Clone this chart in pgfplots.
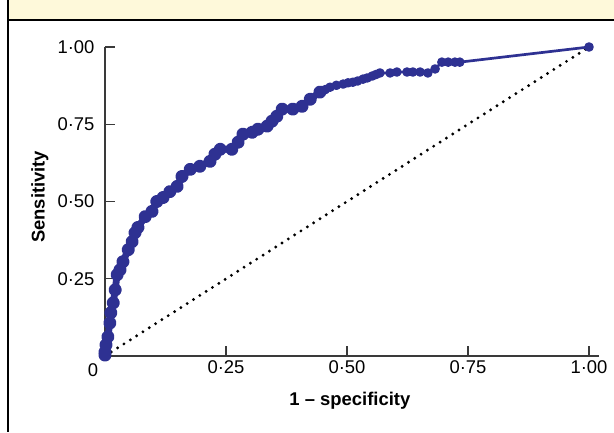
\documentclass[border=0pt]{standalone}
\usepackage{fontspec}
\setmainfont{Liberation Sans}
\usepackage{pgfplots}
\pgfplotsset{compat=1.18}
\definecolor{roc}{HTML}{2E3192}
\definecolor{hdr}{HTML}{FEF9DA}
\definecolor{axgray}{HTML}{3A3A3A}
\begin{document}
\begin{tikzpicture}[x=1bp,y=1bp]
\path[use as bounding box] (0,0) rectangle (614,432);
\fill[hdr] (8,412) rectangle (614,432);
\draw[line width=1.5bp] (8,432) -- (8,0);
\draw[line width=1.5bp] (8,412) -- (614,412);
\begin{axis}[
  at={(105bp,76bp)}, anchor=south west,
  scale only axis, width=493.7bp, height=309bp,
  xmin=0, xmax=1.02, ymin=0, ymax=1,
  axis x line*=bottom, axis y line*=left,
  axis line style={-, axgray, line width=1.2bp},
  tick style={axgray, line width=1.1bp},
  tick align=inside, major tick length=10bp,
  xtick={0.25,0.5,0.75,1},
  xticklabels={\mbox{0·25},\mbox{0·50},\mbox{0·75},\mbox{1·00}},
  ytick={0.25,0.5,0.75,1},
  yticklabels={\mbox{0·25},\mbox{0·50},\mbox{0·75},\mbox{1·00}},
  xticklabel style={font=\fontsize{18.5}{20}\selectfont, yshift=-1bp},
  yticklabel style={font=\fontsize{18.5}{20}\selectfont, xshift=-7bp},
  xlabel={1 – specificity},
  ylabel={Sensitivity},
  xlabel style={font=\bfseries\fontsize{18.5}{21}\selectfont, at={(axis description cs:0.496,-0.146)}, anchor=center},
  ylabel style={font=\bfseries\fontsize{18.5}{21}\selectfont, at={(axis description cs:-0.132,0.515)}, anchor=center},
  clip=false,
]
\addplot[black, line width=3.2bp, line cap=round, dash pattern=on 0pt off 7.5bp] coordinates {(0,0) (1,1)};
\addplot[roc, line width=6.8bp, line join=round, line cap=round, mark=*, mark size=3.2bp, mark options={solid, fill=roc}] coordinates {
(0,0.003) (0,0.013) (0.002,0.036) (0.006,0.062) (0.010,0.107) (0.012,0.140)
(0.017,0.172) (0.021,0.214) (0.025,0.263) (0.031,0.279) (0.037,0.305)
(0.048,0.344) (0.056,0.370) (0.062,0.399) (0.068,0.416) (0.083,0.451)
(0.097,0.468) (0.107,0.500) (0.120,0.513) (0.134,0.532) (0.149,0.549)
(0.159,0.581) (0.176,0.604) (0.196,0.614) (0.217,0.630) (0.227,0.653)
(0.238,0.669) (0.262,0.669) (0.275,0.692) (0.285,0.718) (0.304,0.724)
(0.316,0.734) (0.335,0.744) (0.345,0.760) (0.355,0.776) (0.366,0.799)
(0.388,0.799) (0.407,0.808) (0.424,0.831) (0.444,0.854)
};
\addplot[roc, line width=2.7bp, line join=round, mark=*, mark size=3.4bp, mark options={solid, fill=roc}] coordinates {
(0.444,0.854) (0.455,0.862) (0.465,0.870) (0.478,0.876)
(0.492,0.880) (0.502,0.884) (0.512,0.886) (0.522,0.890) (0.533,0.896) (0.542,0.900) (0.552,0.906) (0.560,0.911) (0.568,0.916)
(0.589,0.916) (0.603,0.919) (0.624,0.919) (0.636,0.919) (0.651,0.919)
(0.667,0.916) (0.682,0.929) (0.696,0.951) (0.709,0.951) (0.723,0.951)
(0.733,0.951) (1,1)
};
\end{axis}
\node[font=\fontsize{18.5}{20}\selectfont] at (93,62) {0};
\end{tikzpicture}
\end{document}
